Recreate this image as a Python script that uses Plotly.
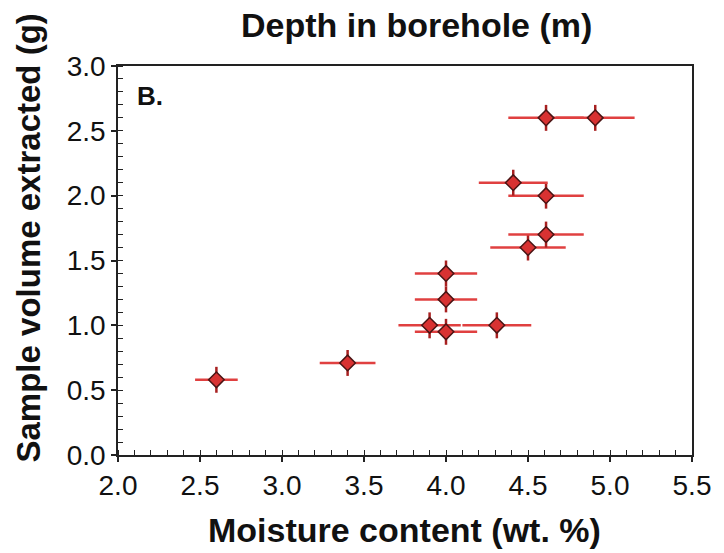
import plotly.graph_objects as go

moisture = [2.60, 3.40, 3.90, 4.31, 4.00, 4.00, 4.00, 4.50, 4.61, 4.61, 4.41, 4.61, 4.91]
volume = [0.58, 0.71, 1.00, 1.00, 0.95, 1.20, 1.40, 1.60, 1.70, 2.00, 2.10, 2.60, 2.60]
moisture_err = [0.13, 0.17, 0.19, 0.21, 0.19, 0.19, 0.19, 0.23, 0.23, 0.23, 0.21, 0.23, 0.24]
volume_err = [0.10, 0.10, 0.10, 0.10, 0.10, 0.10, 0.10, 0.10, 0.10, 0.10, 0.10, 0.10, 0.10]

x_ticks = [2.0, 2.5, 3.0, 3.5, 4.0, 4.5, 5.0, 5.5]
y_ticks = [0.0, 0.5, 1.0, 1.5, 2.0, 2.5, 3.0]

FONT = "Liberation Sans, Arial, sans-serif"

fig = go.Figure()
fig.add_trace(go.Scatter(
    x=moisture, y=volume, mode="markers",
    marker=dict(symbol="diamond", size=12, color="#d83232",
                line=dict(color="#4a1414", width=1.5)),
    error_x=dict(type="data", array=moisture_err, color="#e04040",
                 thickness=2.5, width=0),
    error_y=dict(type="data", array=volume_err, color="#a82020",
                 thickness=2.5, width=0),
    showlegend=False,
))

axis_common = dict(
    showgrid=False, zeroline=False, showline=True, linecolor="#222",
    linewidth=1.5, mirror=True, ticks="outside", ticklen=5, tickwidth=1.5,
    tickcolor="#222", tickfont=dict(family=FONT, size=28, color="#111"),
)

fig.update_xaxes(range=[2.0, 5.5], tickvals=x_ticks,
                 ticktext=[f"{v:.1f}" for v in x_ticks],
                 minor=dict(dtick=0.1, ticks="inside", ticklen=5,
                            tickwidth=1.2, tickcolor="#222"),
                 **axis_common)
fig.update_yaxes(range=[0.0, 3.0], tickvals=y_ticks,
                 ticktext=[f"{v:.1f}" for v in y_ticks],
                 minor=dict(dtick=0.1, ticks="inside", ticklen=5,
                            tickwidth=1.2, tickcolor="#222"),
                 **axis_common)

fig.update_layout(
    width=724, height=553,
    margin=dict(l=118, r=32, t=66, b=98),
    plot_bgcolor="white", paper_bgcolor="white",
    annotations=[
        dict(text="<b>Depth in borehole (m)</b>", xref="paper", yref="paper",
             x=(416 - 118) / 574, y=1, yshift=41, showarrow=False,
             font=dict(family=FONT, size=34, color="#111"),
             xanchor="center", yanchor="middle"),
        dict(text="<b>Moisture content (wt. %)</b>", xref="paper", yref="paper",
             x=(404 - 118) / 574, y=0, yshift=-75, showarrow=False,
             font=dict(family=FONT, size=34, color="#111"),
             xanchor="center", yanchor="middle"),
        dict(text="<b>Sample volume extracted (g)</b>", xref="paper", yref="paper",
             x=0, xshift=-90, y=0.5, yshift=22, textangle=-90, showarrow=False,
             font=dict(family=FONT, size=33, color="#111"),
             xanchor="center", yanchor="middle"),
        dict(text="<b>B.</b>", xref="paper", yref="paper",
             x=0.03, y=0.923, showarrow=False,
             font=dict(family=FONT, size=26, color="#111"),
             xanchor="left", yanchor="middle"),
    ],
)

fig.write_html("out.html")
